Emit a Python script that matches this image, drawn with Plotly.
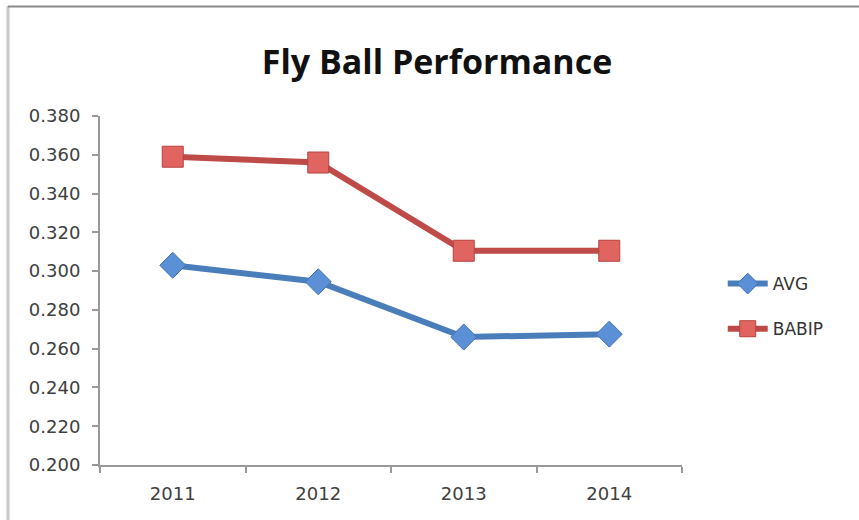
import plotly.graph_objects as go

years = ["2011", "2012", "2013", "2014"]
avg = [0.303, 0.2945, 0.266, 0.2675]
babip = [0.359, 0.356, 0.3105, 0.3105]
y_ticks = [0.20, 0.22, 0.24, 0.26, 0.28, 0.30, 0.32, 0.34, 0.36, 0.38]
y_tick_labels = ["%.3f" % v for v in y_ticks]

TICKFONT = "DejaVu Sans"
TITLEFONT = "Open Sans"

fig = go.Figure()
fig.add_trace(go.Scatter(
    x=years, y=avg, name="AVG", mode="lines+markers", legendgroup="a",
    line=dict(color="#4a7ebb", width=6),
    marker=dict(symbol="diamond", size=20, color="#5b90d6",
                line=dict(color="#3f74b5", width=1)),
))
fig.add_trace(go.Scatter(
    x=years, y=babip, name="BABIP", mode="lines+markers", legendgroup="b",
    line=dict(color="#be4b48", width=6),
    marker=dict(symbol="square", size=21, color="#e06561",
                line=dict(color="#b8403d", width=1)),
))

fig.update_layout(
    width=859, height=520,
    margin=dict(l=100, r=177, t=116, b=55),
    paper_bgcolor="white", plot_bgcolor="white",
    font=dict(family=TICKFONT, size=18, color="#404040"),
    title=dict(text="<b>Fly Ball Performance</b>", x=437/859, xanchor="center",
               y=1 - 62/520, yanchor="middle",
               font=dict(family=TITLEFONT, size=34, color="#111111")),
    showlegend=True,
    legend=dict(x=1.07, xanchor="left", y=0.57, yanchor="top",
                tracegroupgap=20, traceorder="grouped",
                font=dict(family=TICKFONT, size=17, color="#333333"),
                bgcolor="rgba(0,0,0,0)", itemwidth=40),
    xaxis=dict(type="category", showgrid=False, showline=True,
               linecolor="#999999", linewidth=2, ticks="outside",
               tickson="boundaries", ticklen=6, tickcolor="#999999",
               tickwidth=2, tickfont=dict(size=18, color="#404040"),
               ticklabelstandoff=11, range=[-0.5, 3.5]),
    yaxis=dict(range=[0.20, 0.38], tickvals=y_ticks, ticktext=y_tick_labels,
               showgrid=False, showline=True, linecolor="#999999",
               linewidth=2, ticks="outside", ticklen=6, tickcolor="#999999",
               tickwidth=2, zeroline=False, ticklabelstandoff=8,
               tickfont=dict(size=18, color="#404040")),
)

# Outer frame lines (left and top) like the reference's chart border
fig.add_shape(type="line", xref="paper", yref="paper",
              x0=-92/582, x1=-92/582, y0=-55/349 - 0.01, y1=(465 - 6)/349,
              line=dict(color="#c8c8c8", width=3), layer="below")
fig.add_shape(type="line", xref="paper", yref="paper",
              x0=-92/582, x1=(859 - 100)/582, y0=(465 - 6.5)/349, y1=(465 - 6.5)/349,
              line=dict(color="#8a8a8a", width=2), layer="below")

fig.write_html("out.html", config={"displayModeBar": False},
               post_script="document.body.style.margin='0';document.body.style.overflow='hidden';")
